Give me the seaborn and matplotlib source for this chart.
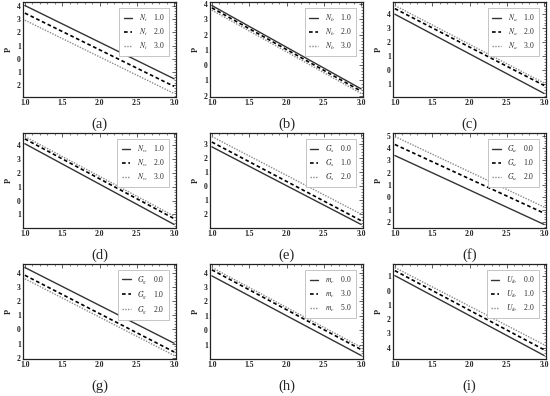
import matplotlib
matplotlib.use('Agg')
import matplotlib.pyplot as plt
import matplotlib.ticker as mticker
import seaborn as sns
import pandas as pd

# Panel data (lines are straight so two points each)
panel_letters = ['(a)', '(b)', '(c)', '(d)', '(e)', '(f)', '(g)', '(h)', '(i)']
param_names = ['N_t', 'N_b', 'N_a', 'N_w', 'G_s', 'G_u', 'G_g', 'm_c', 'U_{lb}']
param_values = [
    [1.0, 2.0, 3.0], [1.0, 2.0, 3.0], [1.0, 2.0, 3.0],
    [1.0, 2.0, 3.0], [0.0, 1.0, 2.0], [0.0, 1.0, 2.0],
    [0.0, 1.0, 2.0], [0.0, 3.0, 5.0], [0.0, 1.0, 2.0],
]
x_ends = [1.0, 3.0]
y_start = [
    [4.0, 3.43, 2.9], [3.9, 3.75, 3.6], [4.0, 4.4, 4.62],
    [4.1, 4.45, 4.62], [2.77, 3.11, 3.5], [3.4, 4.3, 4.95],
    [4.4, 3.85, 3.6], [3.77, 4.19, 4.35], [1.05, 1.4, 1.62],
]
y_end = [
    [-1.5, -2.07, -2.6], [-1.55, -1.7, -1.85], [-1.64, -1.07, -0.9],
    [-1.72, -1.3, -1.12], [-2.71, -2.44, -1.98], [-2.22, -1.3, -0.8],
    [-0.98, -1.6, -1.85], [-1.74, -1.33, -1.17], [-4.56, -4.16, -3.81],
]
x_ticks = [1.0, 1.5, 2.0, 2.5, 3.0]

sns.set_style('white')
plt.rcParams['font.family'] = ['Liberation Serif', 'DejaVu Serif']
plt.rcParams['mathtext.fontset'] = 'stix'

line_styles = [
    dict(color='#333333', linestyle='-', linewidth=1.0),
    dict(color='black', linestyle=(0, (2.2, 1.6)), linewidth=1.2),
    dict(color='#8a8a8a', linestyle=(0, (1, 1)), linewidth=1.0),
]

W, H = 550, 396
lefts = [23, 210, 393]
tops = [2, 133, 264]
aw, ah = 153, 95

fig = plt.figure(figsize=(5.5, 3.96), dpi=100)

for i in range(9):
    r, c = divmod(i, 3)
    ax = fig.add_axes([lefts[c] / W, 1 - (tops[r] + ah) / H, aw / W, ah / H])
    handles = []
    labels = []
    for k in range(3):
        df = pd.DataFrame({'x': x_ends, 'P': [y_start[i][k], y_end[i][k]]})
        sns.lineplot(data=df, x='x', y='P', ax=ax, **line_styles[k])
        handles.append(ax.lines[-1])
        labels.append(f"${param_names[i]}$    {param_values[i][k]:.1f}")

    ymin = min(y_end[i] + y_start[i])
    ymax = max(y_end[i] + y_start[i])
    pad = 0.04 * (ymax - ymin)
    ax.set_ylim(ymin - pad, ymax + pad)
    ax.set_xlim(0.975, 3.025)
    ax.set_xticks(x_ticks)
    ax.xaxis.set_major_formatter(mticker.FormatStrFormatter('%.1f'))
    ax.yaxis.set_major_locator(mticker.MultipleLocator(1))
    ax.yaxis.set_major_formatter(mticker.FuncFormatter(lambda v, p: f"{abs(int(round(v)))}"))
    ax.xaxis.set_minor_locator(mticker.MultipleLocator(0.1))
    ax.yaxis.set_minor_locator(mticker.MultipleLocator(0.2))
    ax.tick_params(which='both', direction='in', top=True, right=True,
                   labelsize=5.5, pad=1.5, colors='#222222')
    ax.tick_params(which='major', length=3, width=0.5)
    ax.tick_params(which='minor', length=1.5, width=0.4)
    for lab in ax.get_xticklabels() + ax.get_yticklabels():
        lab.set_fontweight('bold')
    for s in ax.spines.values():
        s.set_color('#222222')
        s.set_linewidth(0.9)
    ax.set_xlabel('')
    ax.set_ylabel('P', fontsize=6, fontweight='bold', labelpad=3)

    leg = ax.legend(handles, labels, loc='upper right', bbox_to_anchor=(0.955, 0.935),
                    fontsize=5.5, handlelength=1.1, handletextpad=0.9,
                    borderpad=0.55, labelspacing=0.4, borderaxespad=0.0,
                    frameon=True, fancybox=False, framealpha=1.0)
    leg.get_frame().set_edgecolor('#bbbbbb')
    leg.get_frame().set_linewidth(0.6)

    fig.text((lefts[c] + aw / 2) / W, 1 - (tops[r] + ah + 27) / H, panel_letters[i],
             ha='center', va='center', fontsize=10.5)

fig.savefig('out.png', dpi=100)
